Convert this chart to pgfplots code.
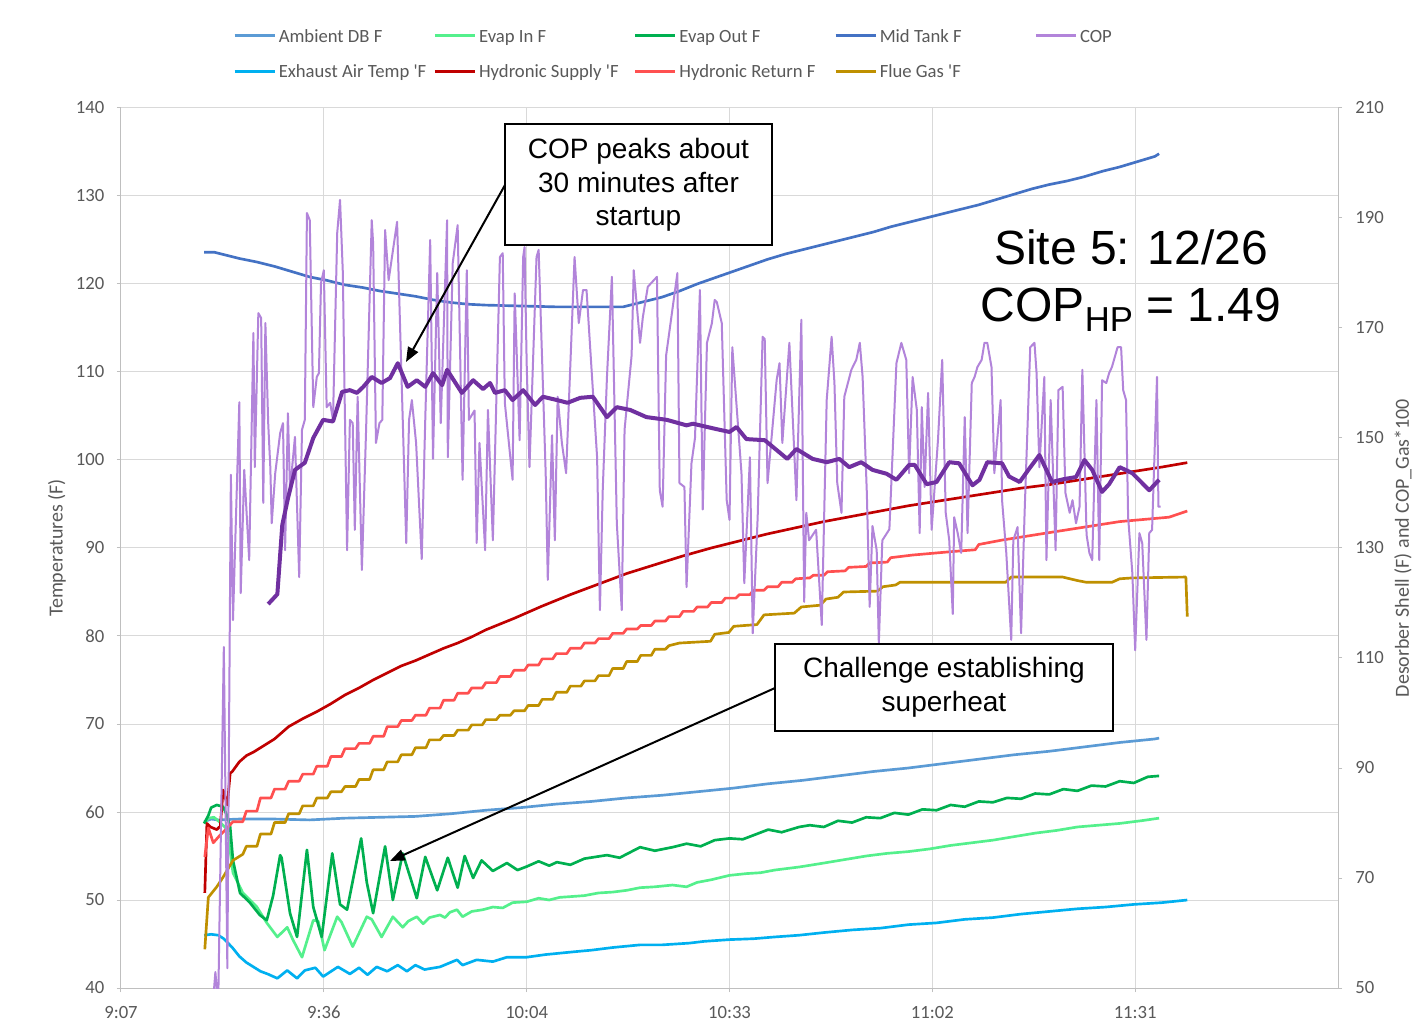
\documentclass[border=0pt]{standalone}
\usepackage{fontspec}
\setmainfont{Carlito}
\newfontfamily\arialfont{Liberation Sans}
\usepackage{pgfplots}
\pgfplotsset{compat=1.18}
\usetikzlibrary{arrows.meta}

\definecolor{ambient}{HTML}{5B9BD5}
\definecolor{evapin}{RGB}{84,240,140}
\definecolor{evapout}{HTML}{00B050}
\definecolor{midtank}{HTML}{4472C4}
\definecolor{cop}{RGB}{178,132,218}
\definecolor{copavg}{HTML}{7030A0}
\definecolor{exhaust}{HTML}{00B0F0}
\definecolor{hsupply}{HTML}{C00000}
\definecolor{hreturn}{HTML}{FF5050}
\definecolor{flue}{HTML}{BF9000}
\definecolor{ticktext}{HTML}{595959}
\definecolor{gridgray}{HTML}{D9D9D9}
\definecolor{axisgray}{HTML}{BFBFBF}

\newcommand{\tq}{\textquotesingle}

\pgfplotsset{
  chartbase/.style={
    scale only axis, width=912.75pt, height=660pt,
    at={(90.75pt,33.75pt)}, anchor=south west,
    xmin=547.2, xmax=720,
    tick align=outside, major tick length=3pt,
    tick style={axisgray, line width=0.75pt},
    axis line style={axisgray, line width=0.75pt},
    ticklabel style={font=\fontsize{14}{16.8}\selectfont, text=ticktext},
    /pgf/number format/assume math mode=true,
  },
  series/.style={line width=2pt, line join=round},
}

\begin{document}
\begin{tikzpicture}
\fill[white] (0pt,0pt) rectangle (1065.75pt,774.75pt);

% ---------- temperatures, left axis ----------
\begin{axis}[chartbase,
  ymin=40, ymax=140, ytick distance=10,
  xtick={547.2,576,604.8,633.6,662.4,691.2},
  xticklabels={9:07,9:36,10:04,10:33,11:02,11:31},
  xticklabel style={yshift=-7pt},
  yticklabel style={xshift=-6pt},
  axis x line*=bottom, axis y line*=left,
  grid=major, major grid style={gridgray, line width=0.75pt},
  ylabel={Temperatures (F)},
  every axis y label/.style={at={(axis description cs:-0.0526,0.5)}, rotate=90, anchor=center,
    font=\fontsize{15}{18}\selectfont, text=ticktext},
  legend columns=5,
  legend cell align=left,
  legend style={at={(0.0921,1.0949)}, anchor=north west, draw=none, fill=none,
    inner sep=0pt, outer sep=0pt, font=\fontsize{14}{16.8}\selectfont, text=ticktext,
    row sep=9pt, column sep=0pt},
  legend image code/.code={\draw[#1, line width=2.25pt] (0pt,0pt) -- (30pt,0pt);},
]
\addplot[series, ambient] coordinates {
(559.0,58.9) (560.0,59.2) (561.0,59.1) (564.0,59.2) (569.0,59.2) (574.0,59.1) (579.0,59.3) (584.0,59.4) (589.0,59.5) (594.0,59.8) (599.0,60.2) (604.0,60.5) (609.0,60.9) (614.0,61.2) (619.0,61.6) (624.0,61.9) (629.0,62.3) (634.0,62.7) (639.0,63.2) (644.0,63.6) (649.0,64.1) (654.0,64.6) (659.0,65.0) (664.0,65.5) (669.0,66.0) (674.0,66.5) (679.0,66.9) (684.0,67.4) (689.0,67.9) (694.0,68.3) (694.6,68.4)};
\addlegendentry{\makebox[114pt][l]{\strut Ambient DB F}}

\addplot[series, evapin] coordinates {
(559.0,58.7) (559.6,59.3) (560.4,59.4) (561.3,58.8) (562.3,58.0) (563.1,53.1) (564.5,50.8) (566.5,49.2) (567.9,47.4) (569.4,45.8) (570.8,46.9) (571.6,45.5) (572.9,43.5) (574.5,47.7) (575.2,47.6) (576.1,44.3) (577.9,48.1) (578.5,47.5) (580.1,44.7) (582.1,48.1) (582.8,47.8) (584.2,45.8) (585.8,48.1) (587.2,46.9) (588.0,47.6) (589.2,48.1) (590.1,47.3) (591.0,48.0) (592.5,48.3) (593.2,48.0) (593.9,48.6) (594.9,48.9) (595.7,48.1) (597.0,48.7) (598.6,48.9) (600.0,49.2) (601.4,49.1) (602.8,49.7) (604.8,49.8) (606.5,50.2) (608.0,50.0) (609.5,50.3) (611.3,50.4) (613.0,50.5) (615.0,50.8) (617.0,50.9) (619.0,51.1) (620.9,51.4) (623.0,51.5) (625.5,51.7) (627.5,51.5) (629.0,52.0) (631.0,52.3) (633.6,52.8) (636.0,53.0) (638.0,53.1) (640.0,53.4) (643.5,53.75) (647.0,54.2) (650.0,54.6) (653.0,55.0) (656.0,55.3) (659.0,55.5) (662.0,55.8) (665.0,56.2) (668.0,56.5) (671.0,56.8) (674.0,57.2) (677.0,57.6) (680.0,57.9) (683.0,58.3) (686.0,58.5) (689.0,58.7) (692.0,59.0) (694.6,59.3)};
\addlegendentry{\makebox[114pt][l]{\strut Evap In F}}

\addplot[series, evapout] coordinates {
(559.0,58.7) (559.6,59.6) (560.0,60.5) (560.8,60.8) (561.7,60.6) (562.3,59.5) (562.7,58.3) (563.1,54.5) (564.1,50.8) (565.5,49.7) (566.9,48.3) (567.9,47.7) (568.8,50.5) (569.8,55.1) (570.0,54.8) (571.2,48.5) (572.2,45.8) (573.6,55.7) (574.5,49.2) (575.7,45.8) (577.2,55.3) (578.3,49.5) (579.3,48.9) (581.3,57.0) (582.1,52.0) (583.0,48.5) (584.7,56.1) (585.8,50.0) (587.2,55.3) (589.2,50.2) (590.4,54.9) (592.1,51.1) (593.6,54.8) (595.0,51.4) (596.0,55.0) (597.2,52.5) (598.4,54.5) (600.0,53.3) (602.0,54.2) (603.5,53.4) (604.8,53.8) (606.5,54.4) (608.0,53.9) (609.1,54.3) (611.0,54.0) (613.0,54.7) (616.2,55.1) (618.0,54.8) (620.9,56.0) (623.0,55.6) (625.5,56.0) (627.5,56.4) (629.5,56.1) (631.5,56.8) (633.6,57.0) (635.5,56.9) (639.1,58.0) (641.0,57.7) (643.5,58.3) (645.0,58.5) (647.0,58.3) (649.0,59.0) (651.0,58.8) (653.0,59.4) (655.0,59.3) (657.0,59.9) (659.0,59.7) (661.0,60.3) (663.0,60.2) (665.0,60.8) (667.0,60.6) (669.0,61.2) (671.0,61.1) (673.0,61.6) (675.0,61.5) (677.0,62.1) (679.0,62.0) (681.0,62.6) (683.0,62.4) (685.0,63.0) (687.0,62.9) (689.0,63.5) (691.0,63.3) (693.0,64.0) (694.6,64.1)};
\addlegendentry{\makebox[114pt][l]{\strut Evap Out F}}

\addplot[series, midtank] coordinates {
(559.0,123.6) (560.5,123.6) (562.0,123.3) (564.0,122.9) (566.5,122.5) (569.0,122.0) (571.5,121.4) (574.0,120.8) (576.5,120.4) (579.0,119.9) (581.5,119.6) (584.0,119.2) (586.5,118.9) (589.0,118.6) (591.5,118.2) (594.0,117.9) (596.5,117.7) (599.0,117.6) (604.0,117.5) (609.0,117.4) (614.0,117.4) (618.5,117.4) (621.0,117.9) (624.0,118.5) (626.5,119.2) (629.0,120.0) (631.5,120.7) (634.0,121.4) (636.5,122.1) (639.0,122.8) (641.5,123.4) (644.0,123.9) (646.5,124.4) (649.0,124.9) (651.5,125.4) (654.0,125.9) (656.5,126.5) (659.0,127.0) (661.5,127.5) (664.0,128.0) (666.5,128.5) (669.0,129.0) (671.5,129.6) (674.0,130.2) (676.5,130.8) (679.0,131.3) (681.5,131.7) (684.0,132.2) (686.5,132.8) (689.0,133.3) (691.5,133.9) (694.0,134.5) (694.6,134.8)};
\addlegendentry{\makebox[114pt][l]{\strut Mid Tank F}}

\addlegendimage{cop}
\addlegendentry{\makebox[114pt][l]{\strut COP}}

\addplot[series, exhaust] coordinates {
(559.0,46.0) (560.0,46.1) (561.0,46.0) (561.8,45.6) (563.0,44.6) (564.0,43.6) (565.0,42.9) (566.0,42.4) (567.0,41.9) (568.0,41.6) (569.4,41.1) (570.8,42.0) (572.2,41.1) (573.3,42.0) (574.8,42.3) (575.9,41.3) (578.0,42.4) (579.7,41.6) (581.0,42.3) (582.2,41.5) (583.5,42.4) (585.0,41.9) (586.5,42.6) (587.8,41.9) (589.0,42.6) (590.3,42.1) (592.5,42.4) (594.9,43.2) (595.7,42.6) (597.7,43.2) (600.0,43.0) (602.0,43.5) (604.8,43.5) (607.5,43.8) (611.3,44.1) (614.0,44.3) (617.0,44.6) (620.9,44.9) (624.0,44.9) (627.9,45.1) (630.0,45.3) (633.6,45.5) (637.0,45.6) (640.0,45.8) (643.5,46.0) (647.0,46.3) (651.0,46.6) (655.0,46.8) (659.0,47.2) (663.0,47.4) (667.0,47.8) (671.0,48.0) (675.0,48.4) (679.0,48.7) (683.0,49.0) (687.0,49.2) (691.0,49.5) (695.0,49.7) (698.6,50.0)};
\addlegendentry{\makebox[114pt][l]{\strut Exhaust Air Temp \tq F}}

\addplot[series, hsupply] coordinates {
(559.1,50.8) (559.4,58.7) (559.9,58.3) (560.8,58.0) (561.3,58.4) (561.7,62.5) (562.3,60.8) (562.7,64.4) (563.0,64.6) (564.0,65.7) (565.0,66.4) (566.0,66.8) (567.0,67.3) (569.0,68.3) (571.0,69.7) (573.0,70.6) (575.0,71.4) (577.0,72.3) (579.0,73.3) (581.0,74.1) (583.0,75.0) (585.0,75.8) (587.0,76.6) (589.0,77.2) (591.0,77.9) (593.0,78.6) (595.0,79.2) (597.0,79.9) (599.0,80.7) (603.0,82.0) (607.0,83.4) (611.0,84.7) (615.0,85.9) (619.0,87.1) (623.0,88.1) (627.0,89.1) (631.0,90.0) (635.0,90.8) (639.0,91.6) (643.0,92.3) (647.0,93.0) (651.0,93.6) (655.0,94.2) (659.0,94.8) (663.0,95.3) (667.0,95.8) (671.0,96.3) (675.0,96.8) (679.0,97.2) (683.0,97.7) (687.0,98.2) (691.0,98.7) (695.0,99.2) (698.6,99.7)};
\addlegendentry{\makebox[114pt][l]{\strut Hydronic Supply \tq F}}

\addplot[series, hreturn] coordinates {
(559.1,54.9) (559.6,58.2) (560.3,56.5) (561.3,57.4) (562.3,58.2) (563.1,58.9) (564.5,58.9) (565,60.1) (566.5,60.1) (567,61.6) (568.5,61.6) (569,62.6) (570.5,62.6) (571,63.5) (572.5,63.5) (573,64.3) (574.5,64.3) (575,65.2) (576.5,65.2) (577,66.3) (578.5,66.3) (579,67.2) (580.5,67.2) (581,67.8) (582.5,67.8) (583,68.6) (584.5,68.6) (585,69.7) (586.5,69.7) (587,70.4) (588.5,70.4) (589,71.0) (590.5,71.0) (591,71.8) (592.5,71.8) (593,72.7) (594.5,72.7) (595,73.5) (596.5,73.5) (597,74.1) (598.5,74.1) (599,74.7) (600.5,74.7) (601,75.4) (602.5,75.4) (603,76.1) (604.5,76.1) (605,76.7) (606.5,76.7) (607,77.4) (608.5,77.4) (609,78.0) (610.5,78.0) (611,78.6) (612.5,78.6) (613,79.2) (614.5,79.2) (615,79.7) (616.5,79.7) (617,80.3) (618.5,80.3) (619,80.8) (620.5,80.8) (621,81.2) (622.5,81.2) (623,81.7) (624.5,81.7) (625,82.2) (626.5,82.2) (627,82.8) (628.5,82.8) (629,83.3) (630.5,83.3) (631,83.8) (632.5,83.8) (633,84.3) (634.5,84.3) (635,84.7) (636.5,84.7) (637,85.2) (638.5,85.2) (639,85.6) (640.5,85.6) (641,86.1) (642.5,86.1) (643,86.5) (645,86.6) (645.5,86.9) (647,86.9) (647.5,87.3) (650,87.4) (650.5,87.8) (653,87.9) (653.5,88.3) (656,88.4) (656.5,88.9) (659.6,89.2) (665.3,89.6) (668.5,89.8) (669.0,90.4) (672.3,90.9) (679.4,91.8) (689.0,93.0) (696.0,93.5) (698.6,94.2)};
\addlegendentry{\makebox[114pt][l]{\strut Hydronic Return F}}

\addplot[series, flue] coordinates {
(559.1,44.4) (559.6,50.3) (560.8,51.5) (561.7,52.6) (563.1,54.5) (564.5,55.2) (565,56.1) (566.5,56.1) (567,57.5) (568.5,57.5) (569,58.8) (570.5,58.8) (571,59.8) (572.5,59.8) (573,60.7) (574.5,60.7) (575,61.6) (576.5,61.6) (577,62.3) (578.5,62.3) (579,62.9) (580.5,62.9) (581,63.7) (582.5,63.7) (583,64.8) (584.5,64.8) (585,65.7) (586.5,65.7) (587,66.5) (588.5,66.5) (589,67.3) (590.5,67.3) (591,68.2) (592.5,68.2) (593,68.7) (594.5,68.7) (595,69.3) (596.5,69.3) (597,69.9) (598.5,69.9) (599,70.5) (600.5,70.5) (601,71.0) (602.5,71.0) (603,71.5) (604.5,71.5) (605,72.1) (606.5,72.1) (607,72.8) (608.5,72.8) (609,73.6) (610.5,73.6) (611,74.3) (612.5,74.3) (613,74.9) (614.5,74.9) (615,75.5) (616.5,75.5) (617,76.3) (618.5,76.3) (619,77.1) (620.5,77.1) (621,77.8) (622.5,77.8) (623,78.5) (624.5,78.5) (625,78.9) (626.5,79.2) (630.9,79.4) (631.5,80.2) (633.5,80.4) (634.2,81.1) (637.5,81.3) (638.5,82.4) (642.8,82.6) (643.8,83.3) (646.5,83.5) (647.3,84.2) (649.0,84.4) (649.8,85.0) (654.6,85.1) (655.4,85.6) (657.2,85.8) (657.8,86.1) (665.3,86.1) (672.8,86.1) (673.6,86.7) (680.9,86.7) (683.0,86.3) (684.3,86.1) (687.9,86.1) (689.0,86.5) (690.8,86.6) (698.4,86.7) (698.6,82.2)};
\addlegendentry{\makebox[114pt][l]{\strut Flue Gas \tq F}}
\end{axis}

% ---------- COP x 100, right axis ----------
\begin{axis}[chartbase,
  ymin=50, ymax=210, ytick={50,70,...,210},
  yticklabel style={xshift=6.5pt},
  axis y line*=right, axis x line=none,
  ylabel={Desorber Shell (F) and COP\_Gas*100},
  every axis y label/.style={at={(axis description cs:1.0534,0.5)}, rotate=90, anchor=center,
    font=\fontsize{15}{18}\selectfont, text=ticktext},
]
\addplot[cop, line width=1.5pt, line join=round] coordinates {
(560.3,48) (560.6,52.9) (561.0,47) (561.8,112.0) (562.3,53.6) (562.8,143.3) (563.1,116.9) (564.0,156.5) (564.2,121.8) (564.7,144.2) (565.4,127.8) (566.0,169.1) (566.2,144.7) (566.7,172.7) (567.1,171.8) (567.4,138.2) (567.7,170.9) (568.1,152.7) (568.4,144.7) (568.6,134.5) (569.1,143.6) (569.8,150.9) (570.2,152.7) (570.5,129.6) (570.9,154.5) (571.2,140.5) (571.9,150.2) (572.5,124.7) (572.9,151.5) (573.3,153.3) (573.6,190.9) (574.0,189.6) (574.5,155.6) (575.0,161.1) (575.3,161.8) (575.6,178.2) (576.0,180.5) (576.4,155.6) (576.9,156.4) (577.3,153.3) (577.9,187.3) (578.3,193.3) (578.7,180.0) (578.9,161.8) (579.3,129.6) (579.7,153.3) (580.1,152.7) (580.4,133.3) (580.8,157.5) (581.4,126.0) (582.0,151.5) (582.8,189.6) (583.0,185.4) (583.4,149.1) (583.9,152.7) (584.3,153.3) (584.7,187.8) (585.2,178.7) (586.4,189.3) (587.2,153.5) (587.7,130.9) (588.1,153.3) (588.5,156.9) (589.1,149.1) (589.9,128.0) (590.4,153.3) (591.1,186.0) (591.5,146.2) (592.1,180.0) (592.6,152.7) (593.5,189.6) (593.6,146.5) (594.3,181.8) (595.0,188.7) (595.7,142.4) (596.3,180.5) (596.6,153.3) (597.4,155.0) (597.7,130.9) (598.1,149.1) (598.9,129.6) (599.3,155.1) (600.0,131.4) (601.0,182.9) (601.4,183.6) (601.7,156.4) (602.8,142.4) (603.1,176.3) (603.8,149.6) (604.3,182.9) (604.5,184.7) (604.8,163.6) (605.2,144.7) (606.2,182.9) (606.5,184.2) (607.5,143.6) (607.8,124.2) (608.4,150.5) (608.8,131.4) (609.2,157.5) (609.8,149.1) (610.4,143.6) (611.6,182.9) (612.2,170.9) (612.8,176.9) (613.3,176.9) (614.8,146.5) (615.2,118.7) (615.6,140.5) (616.2,161.1) (616.9,179.3) (617.6,134.5) (618.3,118.7) (618.7,151.5) (619.7,165.0) (620.0,180.5) (620.9,167.3) (621.3,172.0) (622.0,177.5) (623.3,179.3) (623.7,140.5) (624.1,137.5) (624.6,165.0) (626.2,180.0) (626.5,141.8) (627.2,141.1) (627.5,122.9) (628.2,145.4) (628.7,150.0) (629.4,176.9) (629.8,137.0) (630.4,167.3) (631.1,170.9) (631.5,175.1) (631.8,174.7) (632.5,170.9) (633.2,138.7) (633.6,135.1) (634.0,166.5) (635.3,143.6) (635.7,123.6) (636.5,146.5) (636.9,114.5) (637.6,135.6) (638.3,168.4) (638.6,168.0) (639.0,141.8) (640.3,160.6) (640.7,163.6) (641.1,149.1) (642.1,167.3) (643.1,138.7) (643.8,171.5) (644.2,120.2) (644.5,136.4) (644.9,131.4) (645.9,133.3) (646.7,116.0) (647.4,156.9) (648.1,168.4) (648.5,160.0) (648.9,141.8) (649.5,136.4) (649.9,157.5) (650.9,162.4) (651.6,164.2) (652.1,167.3) (652.5,161.1) (653.1,140.0) (653.5,119.3) (653.9,134.0) (654.5,129.6) (654.8,112.7) (655.3,131.4) (656.3,133.4) (657.3,163.6) (658.0,167.3) (658.7,164.2) (659.1,143.6) (659.6,161.1) (660.2,155.1) (660.6,132.7) (660.9,155.6) (661.3,141.1) (661.8,158.2) (662.3,133.3) (663.2,149.6) (663.8,164.2) (664.3,136.4) (664.8,131.4) (665.3,118.0) (665.5,135.6) (666.0,132.7) (666.5,129.1) (667.0,153.8) (667.4,132.7) (668.0,160.0) (668.4,161.1) (668.8,162.9) (669.4,164.2) (669.8,167.3) (670.2,167.3) (670.8,162.9) (671.2,143.6) (672.1,156.9) (672.3,138.7) (672.9,129.1) (673.6,113.3) (673.9,131.4) (674.5,133.8) (675.0,114.5) (675.5,136.4) (676.3,166.5) (676.9,167.3) (677.2,161.8) (677.6,144.7) (678.3,161.1) (678.6,127.8) (679.2,156.9) (679.9,129.6) (680.3,158.7) (680.9,159.3) (681.3,140.0) (681.9,136.4) (682.3,138.7) (682.8,134.5) (683.3,137.5) (683.7,162.4) (684.3,132.4) (684.7,129.1) (685.1,127.8) (685.7,156.9) (686.1,127.8) (686.5,160.5) (687.1,160.0) (687.5,161.8) (687.9,162.9) (688.7,166.5) (689.2,166.5) (689.5,158.7) (689.9,156.9) (690.2,135.6) (690.8,125.4) (691.2,111.4) (691.8,132.7) (692.2,130.9) (692.8,113.3) (693.2,132.7) (693.6,133.3) (694.3,161.1) (694.5,137.5) (694.8,137.5)};
\addplot[copavg, line width=3pt, line join=round] coordinates {
(568.1,119.8) (569.4,121.6) (570.1,134.2) (570.9,139.0) (571.9,144.2) (573.3,145.5) (574.5,150.0) (575.9,153.3) (577.3,153.0) (578.6,158.4) (579.7,158.7) (580.7,158.2) (581.6,159.3) (582.8,161.1) (584.2,160.0) (585.4,160.9) (586.5,163.6) (587.9,159.3) (589.2,160.5) (590.4,159.3) (591.5,161.8) (592.8,159.6) (593.5,162.4) (595.6,158.2) (597.2,160.5) (598.6,158.9) (599.6,160.0) (600.3,158.2) (601.7,158.7) (602.8,156.9) (604.3,158.7) (606.0,156.0) (607.1,157.5) (609.1,156.9) (610.6,156.4) (612.4,157.3) (614.2,157.5) (616.2,153.8) (617.6,155.6) (619.5,155.1) (621.8,153.8) (624.7,153.3) (627.5,152.3) (628.4,152.6) (631.8,151.6) (633.6,151.1) (634.6,152.0) (636.0,149.8) (638.6,149.6) (640.3,147.8) (641.8,146.2) (643.1,148.0) (645.4,146.2) (647.4,145.6) (649.2,146.2) (650.6,144.7) (652.3,145.6) (653.9,144.2) (655.9,143.5) (657.3,142.4) (659.1,145.1) (659.9,145.1) (661.6,141.6) (663.0,142.0) (664.8,145.6) (666.2,145.4) (668.1,141.4) (669.1,142.4) (670.2,145.6) (672.3,145.4) (673.3,143.0) (674.8,142.0) (676.2,144.5) (677.6,146.9) (679.4,142.0) (681.0,142.5) (682.8,142.9) (684.0,146.0) (685.1,144.2) (686.5,140.2) (687.5,141.6) (689.0,144.7) (690.8,143.6) (693.2,140.5) (694.6,142.4)};
\end{axis}

% ---------- annotations (pixel grid of the chart area) ----------
\begin{scope}[shift={(0pt,774.75pt)}, x=0.75pt, y=-0.75pt]
  \draw[line width=1.5pt, -{Triangle[length=11pt,width=8.5pt]}] (505,185) -- (406,362);
  \draw[line width=1.5pt, fill=white] (505,124) rectangle (772,245);
  \node[font=\arialfont\fontsize{21}{25.2}\selectfont, align=center] at (638.5,185)
    {COP peaks about\\30 minutes after\\startup};

  \draw[line width=1.5pt, -{Triangle[length=11pt,width=8.5pt]}] (775,688) -- (390,861);
  \draw[line width=1.5pt, fill=white] (775,644) rectangle (1113,731);
  \node[font=\arialfont\fontsize{21}{25.2}\selectfont, align=center] at (944,687.5)
    {Challenge establishing\\superheat};

  \node[font=\arialfont\fontsize{36}{43}\selectfont, anchor=base] at (1131,265) {Site 5: 12/26};
  \node[font=\arialfont\fontsize{36}{43}\selectfont, anchor=base] at (1131,322)
    {COP\raisebox{-7.5pt}{\fontsize{26}{26}\selectfont HP} = 1.49};
\end{scope}

\pgfresetboundingbox
\path (0pt,0pt) rectangle (1065.75pt,774.75pt);
\end{tikzpicture}
\end{document}
